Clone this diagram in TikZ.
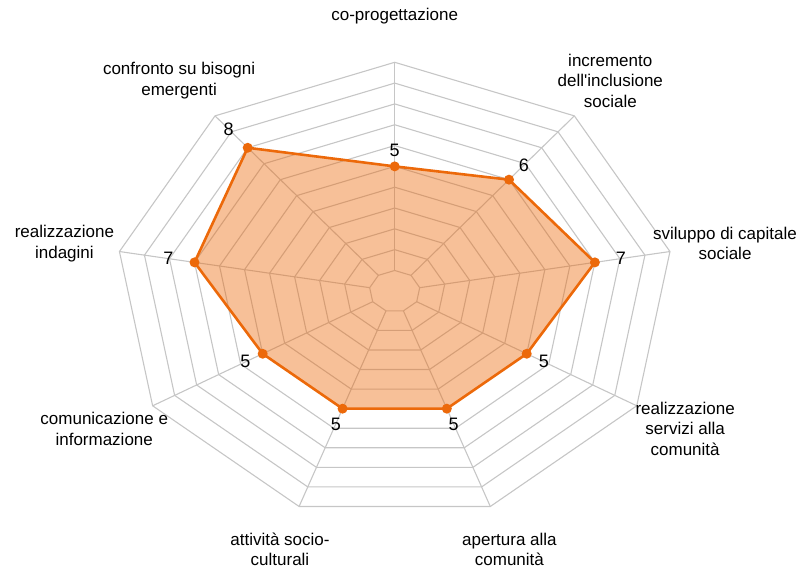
\documentclass[tikz,border=0pt]{standalone}
\usepackage{fontspec}
\setmainfont{Liberation Sans}
\definecolor{radarorange}{RGB}{236,105,10}
\definecolor{radargrid}{RGB}{198,198,198}
\newcommand{\rx}{279.5}
\newcommand{\ry}{229}

\begin{document}
\begin{tikzpicture}[x=1pt,y=1pt,
  gridline/.style={radargrid,line width=1.1pt},
  serie/.style={draw=radarorange,fill=radarorange,fill opacity=.42,line width=2.6pt,line join=round},
  dot/.style={circle,fill=radarorange,inner sep=0pt,minimum size=10pt},
  axislabel/.style={align=center,inner sep=0pt,font=\fontsize{17}{20.5}\selectfont},
  vallabel/.style={inner sep=0pt,font=\fontsize{18}{21}\selectfont}]
\useasboundingbox (-394.7,-277.7) rectangle (403.3,291.3);
% rings and spokes
\foreach \k in {1,...,11}
  \draw[gridline] ({\k/11*\rx*cos(90)},{\k/11*\ry*sin(90)})
    \foreach \a in {50,10,...,-230} { -- ({\k/11*\rx*cos(\a)},{\k/11*\ry*sin(\a)}) } -- cycle;
\foreach \a in {90,50,...,-230}
  \draw[gridline] ({\rx/11*cos(\a)},{\ry/11*sin(\a)}) -- ({\rx*cos(\a)},{\ry*sin(\a)});
% data
\foreach \v [count=\i from 0] in {5,6,7,5,5,5,5,7,8}
  \coordinate (c\i) at ({(\v+1)/11*\rx*cos(90-40*\i)},{(\v+1)/11*\ry*sin(90-40*\i)});
\path[serie] (c0) -- (c1) -- (c2) -- (c3) -- (c4) -- (c5) -- (c6) -- (c7) -- (c8) -- cycle;
\foreach \v [count=\i from 0] in {5,6,7,5,5,5,5,7,8} {
  \node[dot] (p\i) at (c\i) {};
  \node[vallabel] (v\i) at ({1.13*(\v+1)/11*\rx*cos(90-40*\i)},{1.13*(\v+1)/11*\ry*sin(90-40*\i)}) {\v};
}
% axis labels
\foreach \txt [count=\i from 0] in {{co-progettazione},
    {incremento\\dell\textquotesingle inclusione\\sociale},
    {sviluppo di capitale\\sociale},
    {realizzazione\\servizi alla\\comunità},
    {apertura alla\\comunità},
    {attività socio-\\culturali},
    {comunicazione e\\informazione},
    {realizzazione\\indagini},
    {confronto su bisogni\\emergenti}}
  \node[axislabel] (lab\i) at ({1.2*\rx*cos(90-40*\i)},{1.2*\ry*sin(90-40*\i)}) {\txt};
\end{tikzpicture}
\end{document}
